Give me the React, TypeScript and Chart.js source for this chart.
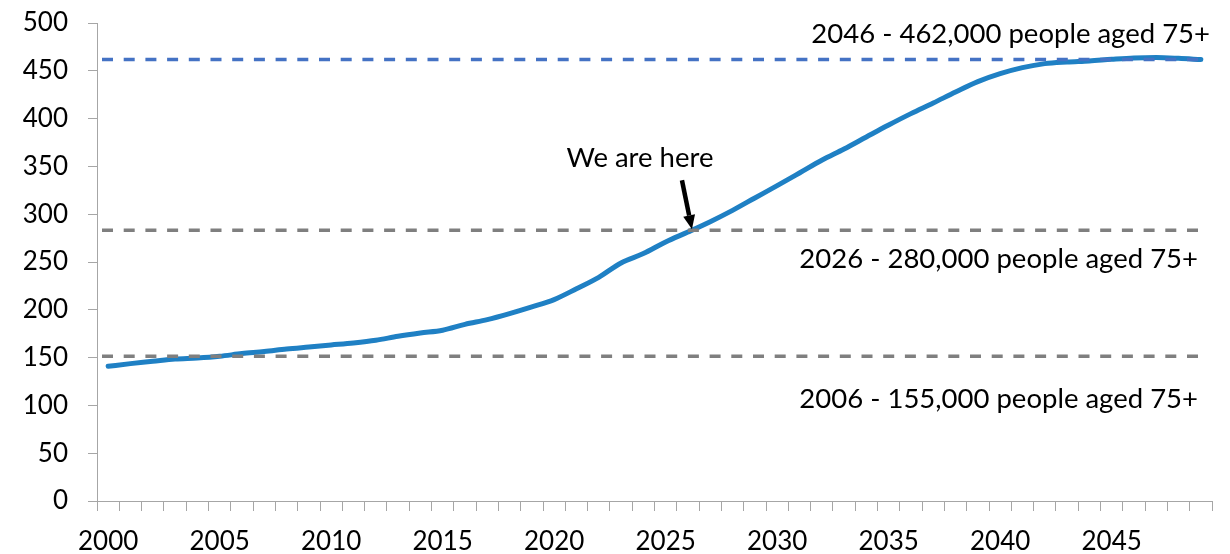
import React, { useEffect, useRef } from "react";
import { Chart, registerables } from "chart.js";

Chart.register(...registerables);

// ---------- data ----------
const years: string[] = [
  "2000", "2001", "2002", "2003", "2004", "2005", "2006", "2007", "2008", "2009",
  "2010", "2011", "2012", "2013", "2014", "2015", "2016", "2017", "2018", "2019",
  "2020", "2021", "2022", "2023", "2024", "2025", "2026", "2027", "2028", "2029",
  "2030", "2031", "2032", "2033", "2034", "2035", "2036", "2037", "2038", "2039",
  "2040", "2041", "2042", "2043", "2044", "2045", "2046", "2047", "2048", "2049",
];

const xTickLabels: string[] = ["2000", "2005", "2010", "2015", "2020", "2025", "2030", "2035", "2040", "2045"];

// people aged 75+ (thousands)
const population75: number[] = [
  140.9, 143.7, 146.1, 148.5, 149.6, 151.4, 154.2, 156.3, 159.0, 161.1,
  163.2, 165.3, 168.1, 172.3, 175.7, 178.6, 184.8, 189.7, 196.0, 203.0,
  210.7, 222.0, 234.0, 249.0, 258.8, 271.0, 281.4, 292.2, 304.0, 317.0,
  329.9, 343.1, 356.4, 368.2, 380.8, 393.3, 405.2, 416.3, 427.8, 438.7,
  447.0, 453.3, 457.5, 459.2, 460.3, 462.0, 463.4, 463.8, 463.0, 461.7,
];

const yMin = 0;
const yMax = 500;
const yStep = 50;

const refValues: number[] = [151.4, 283.2, 461.7];
const refLabels: string[] = [
  "2006 - 155,000 people aged 75+",
  "2026 - 280,000 people aged 75+",
  "2046 - 462,000 people aged 75+",
];
const refColors: string[] = ["#7F7F7F", "#7F7F7F", "#4472C4"];

const markerYear = "2026";
const markerValue = 283.2;
const markerLabel = "We are here";

// ---------- layout / style (not data) ----------
const FONT = "Lato, 'Open Sans', sans-serif";
const FONT_SIZE = 26;
const ANNOT_FONT_SIZE = 27.5;
const refLabelLayout = [
  { right: 1198, dy: 52 },
  { right: 1198, dy: 38 },
  { right: 1210, dy: -17 },
];

const annotationPlugin = {
  id: "annotations",
  afterDatasetsDraw(chart: any) {
    const { ctx, chartArea, scales } = chart;
    const xs = scales.x;
    const ys = scales.y;
    ctx.save();
    // reference dashed lines
    const xEnd = xs.getPixelForValue(years.length - 1);
    refValues.forEach((v, i) => {
      const y = ys.getPixelForValue(v);
      ctx.beginPath();
      ctx.setLineDash([11, 10.7]);
      ctx.lineWidth = 3.5;
      ctx.strokeStyle = refColors[i];
      ctx.moveTo(chartArea.left + 5, y);
      ctx.lineTo(xEnd, y);
      ctx.stroke();
    });
    ctx.setLineDash([]);
    // reference labels
    ctx.fillStyle = "#000";
    ctx.font = `${ANNOT_FONT_SIZE}px ${FONT}`;
    ctx.textAlign = "right";
    ctx.textBaseline = "alphabetic";
    refValues.forEach((v, i) => {
      const y = ys.getPixelForValue(v);
      ctx.fillText(refLabels[i], refLabelLayout[i].right, y + refLabelLayout[i].dy);
    });
    // arrow
    const idx = years.indexOf(markerYear);
    const tipX = xs.getPixelForValue(idx) + 4;
    const tipY = ys.getPixelForValue(markerValue) - 1;
    const tailX = tipX - 10;
    const tailY = tipY - 49;
    const ang = Math.atan2(tipY - tailY, tipX - tailX);
    const headLen = 14;
    const headW = 6;
    const baseX = tipX - headLen * Math.cos(ang);
    const baseY = tipY - headLen * Math.sin(ang);
    ctx.strokeStyle = "#000";
    ctx.lineWidth = 4.5;
    ctx.beginPath();
    ctx.moveTo(tailX, tailY);
    ctx.lineTo(baseX, baseY);
    ctx.stroke();
    ctx.fillStyle = "#000";
    ctx.beginPath();
    ctx.moveTo(tipX, tipY);
    ctx.lineTo(baseX + headW * Math.sin(ang), baseY - headW * Math.cos(ang));
    ctx.lineTo(baseX - headW * Math.sin(ang), baseY + headW * Math.cos(ang));
    ctx.closePath();
    ctx.fill();
    // marker label
    ctx.textAlign = "center";
    ctx.fillText(markerLabel, tipX - 52, tipY - 62);
    ctx.restore();
  },
};

export default function App() {
  const canvasRef = useRef<HTMLCanvasElement | null>(null);

  useEffect(() => {
    if (!canvasRef.current) return;
    const chart = new Chart(canvasRef.current, {
      type: "line",
      data: {
        labels: years,
        datasets: [
          {
            label: "People aged 75+",
            data: population75,
            borderColor: "#1F80C4",
            borderWidth: 5,
            pointRadius: 0,
            cubicInterpolationMode: "monotone",
            borderCapStyle: "round",
            borderJoinStyle: "round",
            fill: false,
          },
        ],
      },
      options: {
        responsive: false,
        animation: false,
        devicePixelRatio: 1,
        layout: { autoPadding: false, padding: { top: 23, right: 18, bottom: 0, left: 0 } },
        plugins: {
          legend: { display: false },
          tooltip: { enabled: false },
          title: { display: false },
        },
        scales: {
          x: {
            type: "category",
            offset: true,
            grid: {
              display: true,
              offset: true,
              drawOnChartArea: false,
              drawTicks: true,
              tickLength: 10,
              color: "#A6A6A6",
              lineWidth: 1,
            },
            border: { display: true, color: "#A6A6A6", width: 1 },
            ticks: {
              autoSkip: false,
              maxRotation: 0,
              minRotation: 0,
              padding: 15,
              color: "#000",
              font: { family: FONT, size: FONT_SIZE },
              callback: (_v: any, i: number) => (xTickLabels.includes(years[i]) ? years[i] : ""),
            },
            afterFit: (scale: any) => {
              scale.height = 53;
              scale.paddingLeft = 0;
              scale.paddingRight = 0;
            },
          },
          y: {
            min: yMin,
            max: yMax,
            grid: {
              display: true,
              drawOnChartArea: false,
              drawTicks: true,
              tickLength: 9,
              color: "#A6A6A6",
              lineWidth: 1,
            },
            border: { display: true, color: "#A6A6A6", width: 1 },
            ticks: {
              stepSize: yStep,
              padding: 20,
              color: "#000",
              font: { family: FONT, size: FONT_SIZE },
            },
            afterFit: (scale: any) => {
              scale.width = 97;
              scale.paddingTop = 0;
              scale.paddingBottom = 0;
            },
          },
        },
      },
      plugins: [annotationPlugin],
    });
    return () => chart.destroy();
  }, []);

  return (
    <div style={{ position: "absolute", left: 0, top: 0, width: 1230, height: 554, background: "#fff" }}>
      <canvas ref={canvasRef} width={1230} height={554} style={{ display: "block" }} />
    </div>
  );
}
